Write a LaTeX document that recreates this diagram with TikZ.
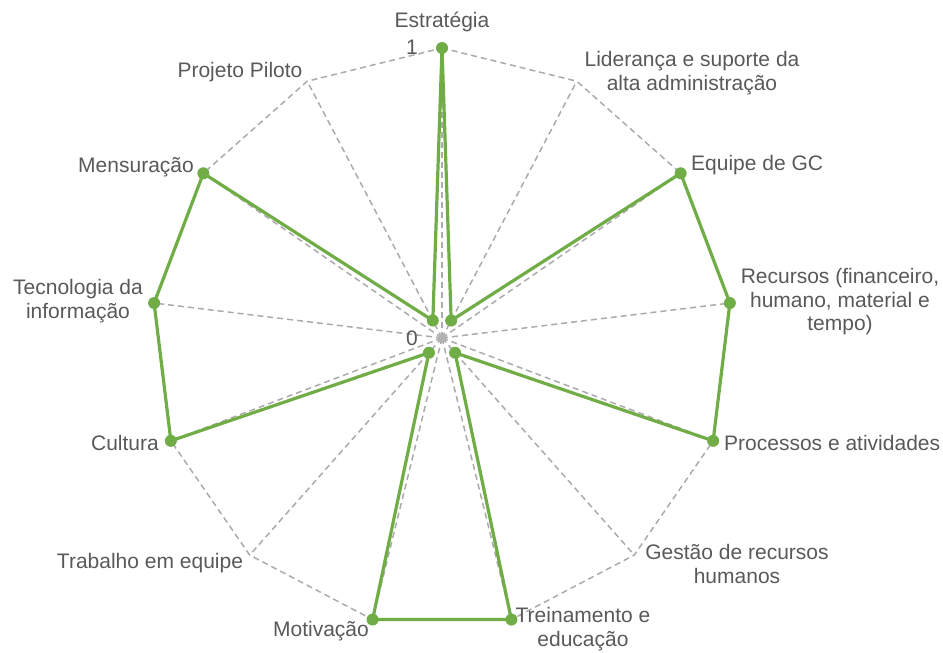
\documentclass[tikz,border=0pt]{standalone}
\usepackage{fontspec}
\setmainfont{Liberation Sans}
\begin{document}
\begin{tikzpicture}[x=1pt,y=-1pt,
  gridline/.style={draw=gridgray,line width=1.5pt,dash pattern=on 6pt off 4pt},
  dataline/.style={draw=chartgreen,line width=3.2pt,line join=round},
  marker/.style={circle,fill=chartgreen,inner sep=0pt,minimum size=12pt},
  lbl/.style={text=labelgray,font=\fontsize{21}{23.5}\selectfont,inner sep=0pt,align=center}]
\definecolor{gridgray}{HTML}{ABABAB}
\definecolor{chartgreen}{HTML}{70AD47}
\definecolor{labelgray}{HTML}{595959}
\useasboundingbox (0,0) rectangle (943,653);
\coordinate (c) at (442,338);
% outer vertices and data points
\foreach \k/\v in {0/1,1/0.068,2/1,3/1,4/1,5/0.068,6/1,7/1,8/0.068,9/1,10/1,11/1,12/0.068}{
  \pgfmathsetmacro{\t}{\k*360/13}
  \coordinate (p\k) at ({442+290*sin(\t)},{338-290*cos(\t)});
  \coordinate (d\k) at ({442+290*\v*sin(\t)},{338-290*\v*cos(\t)});
}
% grid
\foreach \k in {0,...,12}{\draw[gridline] (c) -- (p\k);}
\draw[gridline] (p0) -- (p1) -- (p2) -- (p3) -- (p4) -- (p5) -- (p6) -- (p7) -- (p8) -- (p9) -- (p10) -- (p11) -- (p12) -- cycle;
\fill[gray!60] (c) circle (5pt);
% data
\draw[dataline] (d0) -- (d1) -- (d2) -- (d3) -- (d4) -- (d5) -- (d6) -- (d7) -- (d8) -- (d9) -- (d10) -- (d11) -- (d12) -- cycle;
\foreach \k in {0,...,12}{\node[marker] (m\k) at (d\k) {};}
% axis value labels
\node[lbl] (one) at (412,47) {1};
\node[lbl] (zero) at (412,338) {0};
% category labels
\node[lbl] (l0) at (442,22) {Estratégia};
\node[lbl] (l1) at (692,73) {Liderança e suporte da\\alta administração};
\node[lbl,anchor=west] (l2) at (691,165) {Equipe de GC};
\node[lbl] (l3) at (840,302) {Recursos (financeiro,\\humano, material e\\tempo)};
\node[lbl,anchor=west] (l4) at (724,443) {Processos e atividades};
\node[lbl] (l5) at (737,564) {Gestão de recursos\\humanos};
\node[lbl] (l6) at (583,629) {Treinamento e\\educação};
\node[lbl,anchor=east] (l7) at (369,631) {Motivação};
\node[lbl] (l8) at (150,563) {Trabalho em equipe};
\node[lbl,anchor=east] (l9) at (159,443) {Cultura};
\node[lbl] (l10) at (78,301) {Tecnologia da\\informação};
\node[lbl,anchor=east] (l11) at (194,167) {Mensuração};
\node[lbl] (l12) at (240,72) {Projeto Piloto};
\end{tikzpicture}
\end{document}
